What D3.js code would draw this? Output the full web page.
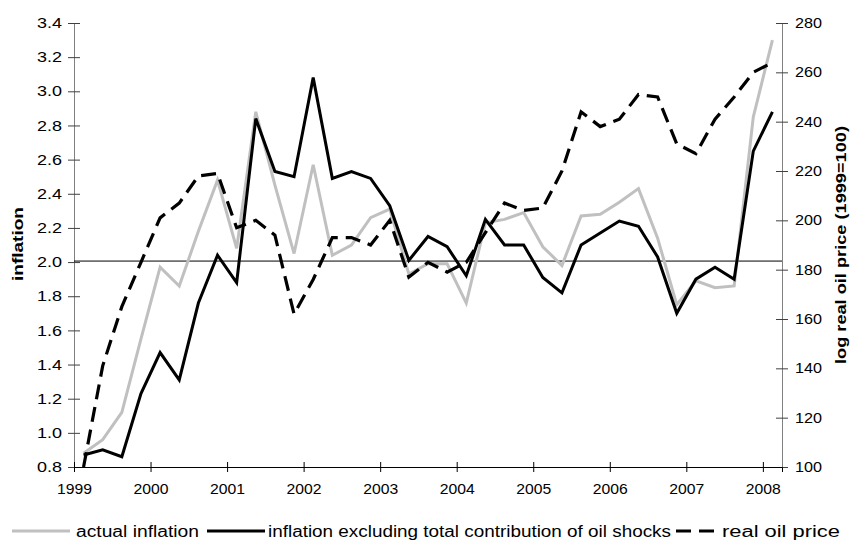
<!DOCTYPE html>
<html>
<head>
<meta charset="utf-8">
<script src="https://cdn.jsdelivr.net/npm/d3@7"></script>
<style>
  body { margin: 0; background: #fff; }
  text { font-family: "Liberation Sans", Arial, sans-serif; }
</style>
</head>
<body>
<div class="chart"></div>
<script>
// quarterly data, 1999Q1 .. 2008Q1
var years = ['1999', '2000', '2001', '2002', '2003', '2004', '2005', '2006', '2007', '2008'];
var actualInflation = [0.88, 0.96, 1.12, 1.55, 1.97, 1.86, 2.18, 2.48, 2.08, 2.88, 2.45, 2.05,
  2.57, 2.04, 2.10, 2.26, 2.31, 1.93, 1.99, 1.99, 1.76, 2.23, 2.25, 2.29, 2.09, 1.98,
  2.27, 2.28, 2.35, 2.43, 2.14, 1.75, 1.89, 1.85, 1.86, 2.85, 3.30];
var exclOil = [0.87, 0.90, 0.86, 1.23, 1.47, 1.31, 1.76, 2.04, 1.88, 2.84, 2.53, 2.50,
  3.08, 2.49, 2.53, 2.49, 2.33, 2.01, 2.15, 2.09, 1.92, 2.25, 2.10, 2.10, 1.91, 1.82,
  2.10, 2.17, 2.24, 2.21, 2.03, 1.70, 1.90, 1.97, 1.90, 2.65, 2.88];
var oilPrice = [100, 141, 165, 183, 201, 207, 218, 219, 197, 200, 194, 162,
  176, 193, 193, 190, 200, 177, 183, 179, 183, 195, 207, 204, 205, 220,
  244, 238, 241, 251, 250, 231, 227, 241, 250, 260, 264];
var leftTicks = [0.8, 1.0, 1.2, 1.4, 1.6, 1.8, 2.0, 2.2, 2.4, 2.6, 2.8, 3.0, 3.2, 3.4];
var rightTicks = [100, 120, 140, 160, 180, 200, 220, 240, 260, 280];
var reference = 2.0;
var legends = [
  {text: 'actual inflation', color: '#c0c0c0', dash: null, x1: 12, x2: 70, tx: 76, tw: 123},
  {text: 'inflation excluding total contribution of oil shocks', color: '#000', dash: null, x1: 207, x2: 265, tx: 268, tw: 403},
  {text: 'real oil price', color: '#000', dash: '15,8', x1: 676, x2: 720, tx: 722, tw: 118}
];

var width = 852, height = 544,
  margin = {top: 23, right: 70, bottom: 77, left: 74},
  plotW = 782 - margin.left,
  plotH = 467 - margin.top;

var svg = d3.select('.chart')
  .append('svg')
    .attr('width', width)
    .attr('height', height);

var g = svg.append('g')
  .attr('transform', `translate(${margin.left}, ${margin.top})`);

var n = actualInflation.length;
var xScale = d3.scaleLinear().domain([0, n]).range([0, plotW]);
var yLeft = d3.scaleLinear().domain([0.8, 3.4]).range([plotH, 0]);
var yRight = d3.scaleLinear().domain([100, 280]).range([plotH, 0]);

// left axis
var gL = g.append('g')
  .call(d3.axisLeft(yLeft).tickValues(leftTicks).tickFormat(d3.format('.1f')).tickSizeOuter(0).tickSize(6));
gL.select('.domain').attr('stroke', '#808080');
gL.selectAll('.tick line').attr('stroke', '#404040').attr('x2', 6).attr('x1', -6);
gL.selectAll('.tick text').attr('x', -12).style('font-size', '14.5px').attr('fill', '#000')
  .attr('textLength', 25).attr('lengthAdjust', 'spacingAndGlyphs');

// right axis
var gR = g.append('g')
  .attr('transform', `translate(${plotW}, 0)`)
  .call(d3.axisRight(yRight).tickValues(rightTicks).tickSizeOuter(0).tickSize(6));
gR.select('.domain').attr('stroke', '#808080');
gR.selectAll('.tick line').attr('stroke', '#404040').attr('x1', -6).attr('x2', 6);
gR.selectAll('.tick text').attr('x', 13).style('font-size', '14.5px').attr('fill', '#000')
  .attr('textLength', 27).attr('lengthAdjust', 'spacingAndGlyphs');

// bottom axis
var gX = g.append('g')
  .attr('transform', `translate(0, ${plotH})`)
  .call(d3.axisBottom(xScale)
    .tickValues(d3.range(0, n, 4))
    .tickFormat((d, i) => years[i])
    .tickSizeOuter(0).tickSize(5));
gX.select('.domain').attr('stroke', '#000');
gX.selectAll('.tick line').attr('stroke', '#000').attr('y1', -5).attr('y2', 5);
gX.selectAll('.tick text').attr('y', 17).style('font-size', '14.5px').attr('fill', '#000')
  .attr('textLength', 35).attr('lengthAdjust', 'spacingAndGlyphs');

// 2.0 reference line
g.append('line')
  .attr('x1', 0).attr('x2', plotW)
  .attr('y1', yLeft(reference) - 1).attr('y2', yLeft(reference) - 1)
  .attr('stroke', '#000').attr('stroke-width', 1);

var px = (d, i) => xScale(i + 0.5);

g.append('path')
  .datum(actualInflation)
  .attr('fill', 'none').attr('stroke', '#c0c0c0').attr('stroke-width', 3)
  .attr('d', d3.line().x(px).y(d => yLeft(d)));

g.append('path')
  .datum(oilPrice)
  .attr('fill', 'none').attr('stroke', '#000').attr('stroke-width', 3.2)
  .attr('stroke-dasharray', '15,8')
  .attr('d', d3.line().x(px).y(d => yRight(d)));

g.append('path')
  .datum(exclOil)
  .attr('fill', 'none').attr('stroke', '#000').attr('stroke-width', 3)
  .attr('d', d3.line().x(px).y(d => yLeft(d)));

// axis titles
svg.append('text')
  .attr('transform', `translate(23, 244) rotate(-90)`)
  .attr('text-anchor', 'middle')
  .attr('textLength', 74).attr('lengthAdjust', 'spacingAndGlyphs')
  .style('font-size', '15px').style('font-weight', 'bold')
  .text('inflation');

svg.append('text')
  .attr('transform', `translate(846, 245) rotate(-90)`)
  .attr('text-anchor', 'middle')
  .attr('textLength', 238).attr('lengthAdjust', 'spacingAndGlyphs')
  .style('font-size', '15px').style('font-weight', 'bold')
  .text('log real oil price (1999=100)');

// legend
var legend = svg.selectAll('.legend')
  .data(legends)
  .enter()
  .append('g')
    .attr('class', 'legend');

legend.append('line')
  .attr('x1', d => d.x1).attr('x2', d => d.x2)
  .attr('y1', 531).attr('y2', 531)
  .attr('stroke', d => d.color).attr('stroke-width', 3)
  .attr('stroke-dasharray', d => d.dash);

legend.append('text')
  .attr('x', d => d.tx)
  .attr('y', 537)
  .attr('textLength', d => d.tw)
  .attr('lengthAdjust', 'spacingAndGlyphs')
  .style('font-size', '16px')
  .text(d => d.text);
</script>
</body>
</html>
